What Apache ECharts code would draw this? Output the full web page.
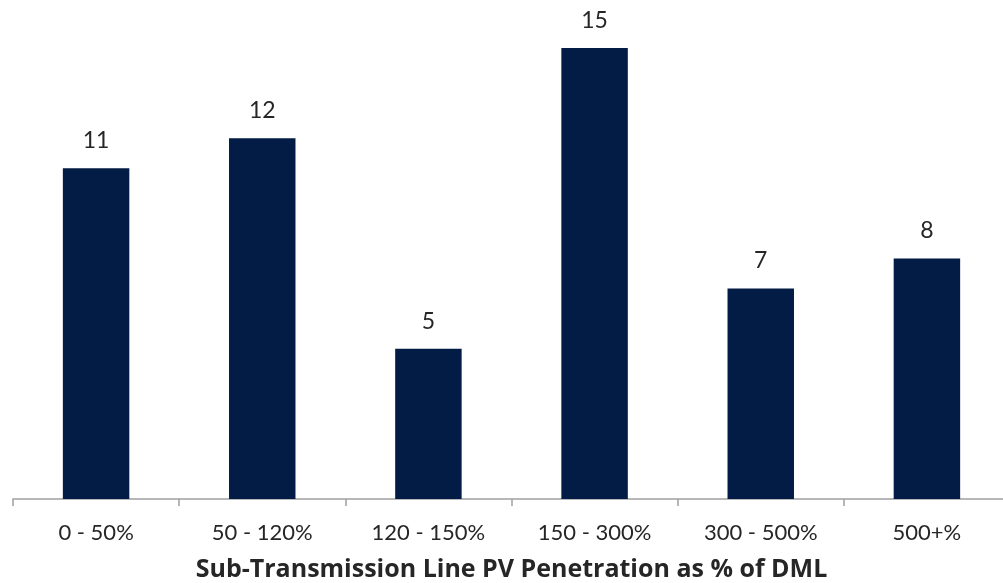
<!DOCTYPE html>
<html>
<head>
<meta charset="utf-8">
<script src="https://cdn.jsdelivr.net/npm/echarts@6/dist/echarts.min.js"></script>
<style>
  html, body { margin: 0; padding: 0; background: #fff; }
  #bar { width: 1003px; height: 583px; }
</style>
</head>
<body>
<div id="bar"></div>
<script>
var categories = ['0 - 50%', '50 - 120%', '120 - 150%', '150 - 300%', '300 - 500%', '500+%'];
var lineCounts = [11, 12, 5, 15, 7, 8];

function barchartMaker() {
    var myChart = echarts.init(document.getElementById('bar'));
    myChart.setOption({
        animation: false,
        textStyle: { fontFamily: 'Lato' },
        grid: {
            left: 13,
            right: -7,
            top: 18,
            bottom: 84,
            outerBoundsMode: 'none'
        },
        xAxis: {
            type: 'category',
            data: categories,
            name: 'Sub-Transmission Line PV Penetration as % of DML',
            nameLocation: 'middle',
            nameGap: 58,
            nameTextStyle: {
                fontFamily: 'Open Sans',
                fontSize: 25,
                fontWeight: 'bold',
                color: '#262626'
            },
            axisLine: { lineStyle: { color: '#a0a0a0', width: 1.5 } },
            axisTick: { show: true, length: 7, lineStyle: { color: '#a0a0a0', width: 1.5 } },
            axisLabel: { fontSize: 22, color: '#262626', margin: 23 }
        },
        yAxis: {
            type: 'value',
            min: 0,
            max: 16,
            show: false,
            splitLine: { show: false }
        },
        series: [{
            type: 'bar',
            data: lineCounts,
            barCategoryGap: '60%',
            itemStyle: { color: '#021c45' },
            label: {
                show: true,
                position: 'top',
                distance: 16,
                fontSize: 23,
                color: '#262626'
            }
        }]
    });
}

barchartMaker();
</script>
</body>
</html>
